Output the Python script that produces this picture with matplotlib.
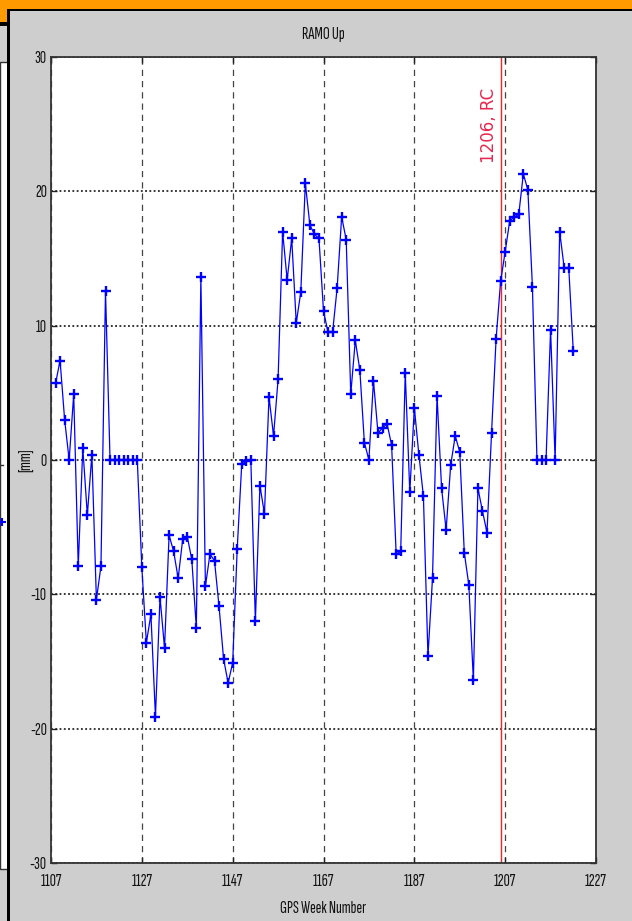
import numpy as np
import matplotlib
matplotlib.use("Agg")
import matplotlib.pyplot as plt
from matplotlib.patches import Rectangle

plt.rcParams['axes.unicode_minus'] = False
narrow = ['Sofia Sans Extra Condensed', 'Pathway Gothic One', 'DejaVu Sans']

# GPS weeks 1108..1222, one value per week
weeks = list(range(1108, 1223))
up_mm = [
    5.7, 7.4, 3.0, 0.0, 4.9, -7.9, 0.9, -4.1, 0.4, -10.4, -7.9, 12.6,
    0.0, 0.0, 0.0, 0.0, 0.0, 0.0, 0.0,
    -8.0, -13.6, -11.5, -19.1, -10.2, -14.0, -5.6, -6.8, -8.8, -5.9, -5.7,
    -7.4, -12.5, 13.6, -9.4, -7.0, -7.5, -10.9, -14.8, -16.6, -15.1,
    -6.6, -0.3, -0.1, 0.0, -12.0, -1.9, -4.0, 4.7, 1.8, 6.0,
    17.0, 13.4, 16.5, 10.2, 12.5, 20.6, 17.5, 16.8, 16.5, 11.1,
    9.5, 9.5, 12.8, 18.1, 16.4, 4.9, 8.9, 6.7, 1.3, 0.0,
    5.9, 2.0, 2.4, 2.7, 1.1, -7.0, -6.8, 6.5, -2.4, 3.9,
    0.4, -2.7, -14.6, -8.8, 4.8, -2.1, -5.2, -0.4, 1.8, 0.6,
    -6.9, -9.3, -16.4, -2.1, -3.8, -5.4, 2.0, 9.0, 13.3, 15.5,
    17.8, 18.1, 18.3, 21.3, 20.1, 12.9, 0.0, 0.0, 0.0, 9.7,
    0.0, 17.0, 14.3, 14.3, 8.1,
]
rc_week = 1206
rc_label = "1206, RC"
xticks = [1107, 1127, 1147, 1167, 1187, 1207, 1227]
yticks = [-30, -20, -10, 0, 10, 20, 30]

W, H = 632, 921
fig = plt.figure(figsize=(W / 100, H / 100), dpi=100, facecolor='#cecece')

# window frame bits around the figure (screenshot look)
bg = fig.add_axes([0, 0, 1, 1], zorder=-5)
bg.set_xlim(0, W)
bg.set_ylim(H, 0)
bg.axis('off')
bg.add_patch(Rectangle((0, 0), W, 10, color='#ff9a00', lw=0))
bg.add_patch(Rectangle((0, 0), 8, 22, color='#ff9a00', lw=0))
bg.add_patch(Rectangle((0, 22), 8, 4, color='black', lw=0))
bg.add_patch(Rectangle((0, 62), 8, 807, facecolor='white', edgecolor='#333333', lw=1))
bg.add_patch(Rectangle((7, 9.5), W - 7, 1.8, color='black', lw=0))
bg.add_patch(Rectangle((7, 9.5), 3.2, H, color='black', lw=0))
bg.plot([0, 3], [465, 465], color='#333333', lw=1)
bg.plot([2], [522], marker='+', color='blue', ms=6, mew=1.5)

ax = fig.add_axes([51 / W, 1 - 863 / H, 545 / W, (863 - 57) / H])
ax.set_facecolor('white')

ax.plot(weeks, up_mm, color='blue', lw=0.9, marker='+', ms=6.5, mew=1.7, zorder=3)
ax.axvline(rc_week, color='#ff2020', lw=1, zorder=2)
ax.text(rc_week - 0.5, 27.7, rc_label, rotation=90, ha='right', va='top',
        color='#e8264f', fontsize=12, family='DejaVu Sans')

ax.set_xlim(1107, 1227)
ax.set_ylim(-30, 30)
ax.set_xticks(xticks)
ax.set_yticks(yticks)

ax.xaxis.grid(True, linestyle=(0, (5, 4)), color='#444444', lw=0.9)
ax.yaxis.grid(True, linestyle=(0, (1.2, 1.6)), color='black', lw=1.1)
ax.set_axisbelow(True)

ax.tick_params(which='both', direction='in', top=True, right=True, length=4,
               width=1, color='#222222', labelsize=12.5, pad=3)
ax.tick_params(axis='x', pad=8)
for lab in ax.get_xticklabels() + ax.get_yticklabels():
    lab.set_family(narrow)
    lab.set_color('#111111')
for s in ax.spines.values():
    s.set_color('#333333')
    s.set_linewidth(1.3)

ax.set_title('RAMO Up', fontsize=12.5, family=narrow, pad=13, color='#111111')
ax.set_xlabel('GPS Week Number', fontsize=12.5, family=narrow, color='#111111')
ax.set_ylabel('[mm]', fontsize=12.5, family=narrow, color='#111111')
ax.xaxis.set_label_coords(0.5, -0.047)
ax.yaxis.set_label_coords(-0.032, 0.5)

fig.savefig('out.png', dpi=100, facecolor=fig.get_facecolor())
